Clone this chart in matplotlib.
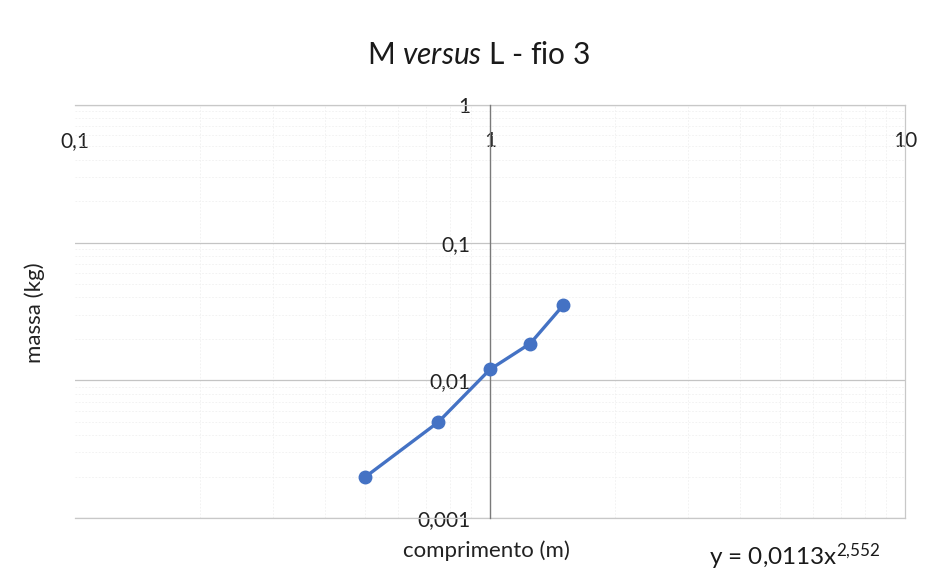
import matplotlib
matplotlib.use("Agg")
import matplotlib.pyplot as plt
from matplotlib.ticker import FixedLocator, FixedFormatter, NullFormatter, LogLocator

plt.rcParams['font.family'] = ['Lato', 'DejaVu Sans']
plt.rcParams['mathtext.fontset'] = 'custom'
plt.rcParams['mathtext.rm'] = 'Lato'
plt.rcParams['mathtext.it'] = 'Lato:italic'

# data
comprimento = [0.5, 0.75, 1.0, 1.25, 1.5]
massa = [0.00198, 0.00496, 0.0120, 0.0185, 0.035]
x_ticks = [0.1, 1, 10]
x_labels = ['0,1', '1', '10']
y_ticks = [0.001, 0.01, 0.1, 1]
y_labels = ['0,001', '0,01', '0,1', '1']
title_txt = 'M $\\mathit{versus}$ L - fio 3'
equation = 'y = 0,0113x$^{2{,}552}$'

fig = plt.figure(figsize=(9.36, 5.83), dpi=100)
ax = fig.add_axes([0.080, 0.1115, 0.887, 0.7085])
ax.set_xscale('log')
ax.set_yscale('log')
ax.set_xlim(0.1, 10)
ax.set_ylim(0.001, 1)

blue = '#4472C4'
ax.plot(comprimento, massa, color=blue, lw=2.4, marker='o', ms=9,
        markerfacecolor=blue, markeredgecolor=blue, zorder=5)

# grid
ax.yaxis.set_major_locator(FixedLocator(y_ticks))
ax.yaxis.set_major_formatter(FixedFormatter(y_labels))
ax.xaxis.set_major_locator(FixedLocator(x_ticks))
ax.xaxis.set_major_formatter(FixedFormatter(x_labels))
ax.xaxis.set_minor_locator(LogLocator(base=10, subs=range(2, 10)))
ax.yaxis.set_minor_locator(LogLocator(base=10, subs=range(2, 10)))
ax.xaxis.set_minor_formatter(NullFormatter())
ax.yaxis.set_minor_formatter(NullFormatter())
ax.grid(True, which='major', axis='y', color='#c4c4c4', lw=0.9)
ax.grid(True, which='minor', color='#f0f0f0', lw=0.6, ls=(0, (2, 2)))
ax.set_axisbelow(True)

for s in ['right', 'bottom', 'top']:
    ax.spines[s].set_color('#c8c8c8')
    ax.spines[s].set_linewidth(0.9)
ax.spines['left'].set_position(('data', 1))
ax.spines['left'].set_color('#7a7a7a')
ax.spines['left'].set_linewidth(1.0)
ax.spines['left'].set_zorder(3)

ax.xaxis.tick_top()
ax.tick_params(axis='x', which='both', length=0, pad=-33, labelsize=15,
               labelcolor='#222222')
ax.tick_params(axis='y', which='both', length=0, pad=14, labelsize=15,
               labelcolor='#222222')

fig.text(0.511, 0.905, title_txt, ha='center', va='center', fontsize=21.5,
         color='#1a1a1a')
fig.text(0.52, 0.055, 'comprimento (m)', ha='center', va='center',
         fontsize=16, color='#222222')
fig.text(0.037, 0.463, 'massa (kg)', ha='center', va='center',
         rotation=90, fontsize=16, color='#222222')
fig.text(0.757, 0.045, equation, ha='left', va='center', fontsize=17.5,
         color='#1a1a1a')

fig.savefig('out.png', dpi=100, facecolor='white')
